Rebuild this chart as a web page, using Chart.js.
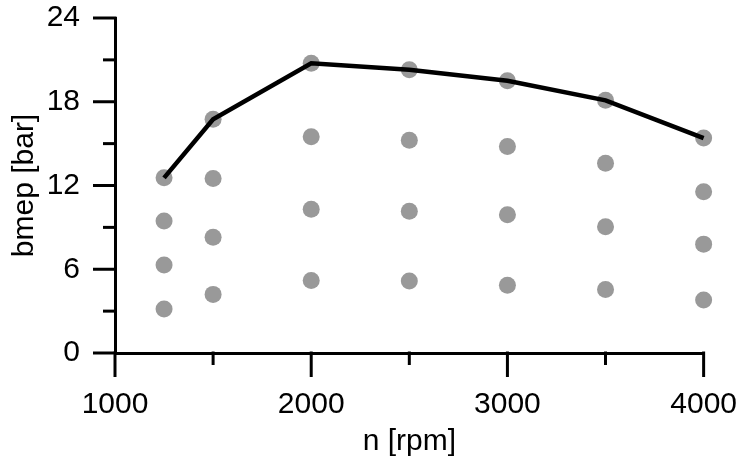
<!DOCTYPE html>
<html>
<head>
<meta charset="utf-8">
<script src="https://cdn.jsdelivr.net/npm/chart.js@4"></script>
<style>
  html, body { margin: 0; padding: 0; background: #fff; }
  #wrap { width: 737px; height: 461px; }
</style>
</head>
<body>
<div id="wrap"><canvas id="bmepChart" width="737" height="461"></canvas></div>
<script>
// engine speed points
const rpm = [1250, 1500, 2000, 2500, 3000, 3500, 4000];
// measured operating points (bmep, bar), one array per load level
const loadFull = [12.55, 16.75, 20.75, 20.3, 19.5, 18.1, 15.4];
const load75 = [9.45, 12.5, 15.5, 15.25, 14.8, 13.6, 11.55];
const load50 = [6.3, 8.3, 10.3, 10.15, 9.9, 9.05, 7.8];
const load25 = [3.15, 4.2, 5.2, 5.15, 4.85, 4.55, 3.8];
// full load curve
const fullLoadCurve = loadFull;
// tick labels
const xTicks = [1000, 2000, 3000, 4000];
const yTicks = [0, 6, 12, 18, 24];

const FONT = "'Liberation Sans', Arial, sans-serif";
const pts = (arr) => arr.map((v, i) => ({ x: rpm[i], y: v }));

// draws the major / minor tick marks with the scales' own pixel mapping
const tickMarks = {
  id: "tickMarks",
  afterDraw(chart) {
    const ctx = chart.ctx;
    const xs = chart.scales.x;
    const ys = chart.scales.y;
    ctx.save();
    ctx.strokeStyle = "#000";
    ctx.lineWidth = 3;
    ctx.lineCap = "butt";
    xs.ticks.forEach((t) => {
      const px = xs.getPixelForValue(t.value);
      const len = xTicks.includes(t.value) ? 24 : 12;
      ctx.beginPath();
      ctx.moveTo(px, ys.bottom - 1.5);
      ctx.lineTo(px, ys.bottom + len);
      ctx.stroke();
    });
    ys.ticks.forEach((t) => {
      const py = ys.getPixelForValue(t.value);
      const len = yTicks.includes(t.value) ? 22 : 12;
      ctx.beginPath();
      ctx.moveTo(xs.left + 1.5, py);
      ctx.lineTo(xs.left - len, py);
      ctx.stroke();
    });
    ctx.restore();
  },
};

const dotStyle = {
  type: "scatter",
  pointRadius: 8.5,
  pointHoverRadius: 8.5,
  pointBackgroundColor: "#999999",
  pointBorderWidth: 0,
  showLine: false,
  clip: false,
};

new Chart(document.getElementById("bmepChart").getContext("2d"), {
  type: "scatter",
  data: {
    datasets: [
      { label: "full", data: pts(loadFull), ...dotStyle, order: 2 },
      { label: "75", data: pts(load75), ...dotStyle, order: 2 },
      { label: "50", data: pts(load50), ...dotStyle, order: 2 },
      { label: "25", data: pts(load25), ...dotStyle, order: 2 },
      {
        label: "full load",
        type: "line",
        data: pts(fullLoadCurve),
        borderColor: "#000",
        borderWidth: 4.5,
        pointRadius: 0,
        tension: 0,
        fill: false,
        clip: false,
        order: 1,
      },
    ],
  },
  options: {
    responsive: false,
    animation: false,
    events: [],
    layout: { padding: { left: 0, right: 2, top: -1.5, bottom: 0 } },
    plugins: {
      legend: { display: false },
      tooltip: { enabled: false },
    },
    scales: {
      x: {
        type: "linear",
        min: 1000,
        max: 4000,
        border: { display: true, color: "#000", width: 3 },
        grid: { drawOnChartArea: false, tickLength: 34, tickColor: "rgba(0,0,0,0)" },
        ticks: {
          stepSize: 500,
          autoSkip: false,
          maxRotation: 0,
          padding: 0,
          color: "#000",
          font: { family: FONT, size: 30 },
          callback: (v) => (xTicks.includes(v) ? String(v) : ""),
        },
        title: {
          display: true,
          text: "n [rpm]",
          color: "#000",
          font: { family: FONT, size: 30 },
          padding: { top: 0, bottom: 1 },
        },
        afterFit: (s) => { s.height = 108; },
      },
      y: {
        type: "linear",
        min: 0,
        max: 24,
        border: { display: true, color: "#000", width: 3 },
        grid: { drawOnChartArea: false, tickLength: 35, tickColor: "rgba(0,0,0,0)" },
        ticks: {
          stepSize: 3,
          autoSkip: false,
          padding: 0,
          color: "#000",
          font: { family: FONT, size: 30 },
          callback: (v) => (yTicks.includes(v) ? String(v) : ""),
        },
        title: {
          display: true,
          text: "bmep [bar]",
          color: "#000",
          font: { family: FONT, size: 30 },
          padding: { top: 7, bottom: 0 },
        },
        afterFit: (s) => { s.width = 115; },
      },
    },
  },
  plugins: [tickMarks],
});
</script>
</body>
</html>
